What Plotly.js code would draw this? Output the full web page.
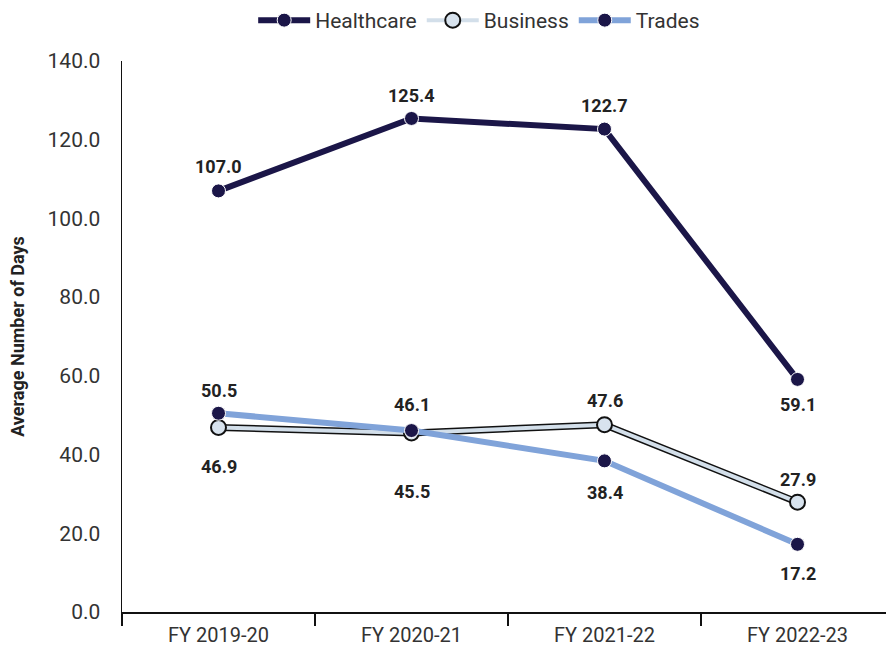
<!DOCTYPE html>
<html><head><meta charset="utf-8">
<script src="https://cdn.plot.ly/plotly-3.0.1.min.js"></script>
<style>html,body{margin:0;padding:0;overflow:hidden;background:#fff}</style>
</head><body><div id="chart" style="width:894px;height:648px"></div>
<script>
const categories = ["FY 2019-20", "FY 2020-21", "FY 2021-22", "FY 2022-23"];
const healthcare = [107.0, 125.4, 122.7, 59.1];
const business = [46.9, 45.5, 47.6, 27.9];
const trades = [50.5, 46.1, 38.4, 17.2];

// label offsets in px (style, not data)
const healthShift = [24, 23, 24, -25];
const businessShift = [-39, -59, 24, 23];
const tradesShift = [23, 26, -32, -29];

const navy = "#1b1648";
const labelFont = {family: "Roboto, sans-serif", size: 18, color: "#222", weight: "bold"};
const fmt = v => v.toFixed(1);

const traces = [
  {x: categories, y: business, mode: "lines", line: {color: "#111", width: 7},
   showlegend: false, hoverinfo: "skip"},
  {x: categories, y: business, name: "Business", mode: "lines+markers",
   line: {color: "#d3dfea", width: 4},
   marker: {size: 15, color: "#d8e3ee", line: {color: "#111", width: 2}}, legendrank: 2},
  {x: categories, y: trades, name: "Trades", mode: "lines+markers",
   line: {color: "#80a3d9", width: 6},
   marker: {size: 14, color: navy, line: {color: "#fff", width: 1}}, legendrank: 3},
  {x: categories, y: healthcare, name: "Healthcare", mode: "lines+markers",
   line: {color: navy, width: 6},
   marker: {size: 14, color: navy, line: {color: "#fff", width: 1}}, legendrank: 1}
];

const annotations = [];
function addLabels(vals, shifts) {
  vals.forEach((v, i) => annotations.push({
    x: categories[i], y: v, text: fmt(v), showarrow: false,
    yshift: shifts[i], font: labelFont, xanchor: "center", yanchor: "middle"
  }));
}
addLabels(healthcare, healthShift);
addLabels(business, businessShift);
addLabels(trades, tradesShift);

const layout = {
  width: 894, height: 648,
  margin: {l: 122, r: 0, t: 61, b: 36, autoexpand: false},
  font: {family: "Roboto, sans-serif", color: "#333"},
  paper_bgcolor: "#fff", plot_bgcolor: "#fff",
  showlegend: true,
  annotations: annotations,
  legend: {orientation: "h", xref: "container", yref: "container",
    x: 0.536, xanchor: "center", y: 1.0, yanchor: "top", itemwidth: 52,
    font: {size: 21, color: "#333"}, traceorder: "normal"},
  xaxis: {type: "category", range: [-0.5, 3.5], showgrid: false, showline: true,
    linecolor: "#111", linewidth: 2, ticks: "outside", tickson: "boundaries",
    ticklen: 12, tickcolor: "#111", tickwidth: 1.5, ticklabelstandoff: 4,
    tickfont: {size: 20, color: "#333"}, zeroline: false},
  yaxis: {range: [0, 140], dtick: 20, tickformat: ".1f", showgrid: false,
    showline: true, linecolor: "#111", linewidth: 1.5, zeroline: false,
    ticks: "", tickfont: {size: 21, color: "#333"}, ticklabelstandoff: 16,
    title: {text: "Average Number of Days", standoff: 18,
      font: {size: 18, color: "#222", weight: "bold"}}}
};

Plotly.newPlot("chart", traces, layout, {displayModeBar: false, staticPlot: true});
</script></body></html>
